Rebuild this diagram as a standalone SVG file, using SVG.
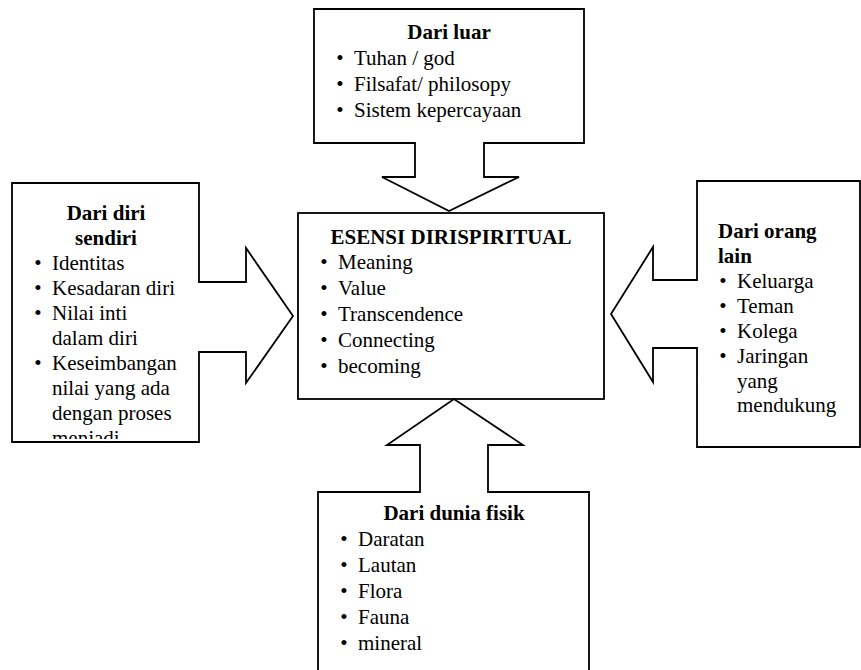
<svg xmlns="http://www.w3.org/2000/svg" width="861" height="670" viewBox="0 0 861 670">
<style>
.shape{fill:#fff;stroke:#000;stroke-width:1.8;stroke-linejoin:miter}
text{font-family:"Liberation Serif","Times New Roman",serif;font-size:21px;fill:#000}
.t{font-weight:bold}
.c{text-anchor:middle}
</style>
<defs>
<clipPath id="clipLeft"><rect x="12" y="183" width="187" height="256"/></clipPath>
</defs>
<rect x="0" y="0" width="861" height="670" fill="#fff"/>

<g id="center">
<rect class="shape" x="298" y="213" width="306" height="186"/>
<text class="t c" x="451" y="244">ESENSI DIRISPIRITUAL</text>
<text class="c" x="324" y="269">•</text><text x="338" y="269">Meaning</text>
<text class="c" x="324" y="295">•</text><text x="338" y="295">Value</text>
<text class="c" x="324" y="321">•</text><text x="338" y="321">Transcendence</text>
<text class="c" x="324" y="347">•</text><text x="338" y="347">Connecting</text>
<text class="c" x="324" y="373">•</text><text x="338" y="373">becoming</text>
</g>

<g id="dari-luar">
<path class="shape" d="M314,9 H584 V143 H484 V177 H519 L449,211 L382,177 H415 V143 H314 Z"/>
<text class="t c" x="449" y="39">Dari luar</text>
<text class="c" x="340" y="65">•</text><text x="354" y="65">Tuhan / god</text>
<text class="c" x="340" y="91">•</text><text x="354" y="91">Filsafat/ philosopy</text>
<text class="c" x="340" y="117">•</text><text x="354" y="117">Sistem kepercayaan</text>
</g>

<g id="dari-diri-sendiri">
<path class="shape" d="M12,183 H199 V282 H246 V248 L293,316 L246,383 V352 H199 V442 H12 Z"/>
<g clip-path="url(#clipLeft)">
<text class="t c" x="106" y="220">Dari diri</text>
<text class="t c" x="106" y="245">sendiri</text>
<text class="c" x="38" y="270">•</text><text x="52" y="270">Identitas</text>
<text class="c" x="38" y="295">•</text><text x="52" y="295">Kesadaran diri</text>
<text class="c" x="38" y="320">•</text><text x="52" y="320">Nilai inti</text>
<text x="52" y="345">dalam diri</text>
<text class="c" x="38" y="370">•</text><text x="52" y="370">Keseimbangan</text>
<text x="52" y="395">nilai yang ada</text>
<text x="52" y="420">dengan proses</text>
<text x="52" y="445">menjadi</text>
</g>
</g>

<g id="dari-orang-lain">
<path class="shape" d="M697,181 H860 V447 H697 V348 H653 V382 L611,314 L653,247 V280 H697 Z"/>
<text class="t" x="718" y="238">Dari orang</text>
<text class="t" x="718" y="263">lain</text>
<text class="c" x="723" y="288">•</text><text x="737" y="288">Keluarga</text>
<text class="c" x="723" y="313">•</text><text x="737" y="313">Teman</text>
<text class="c" x="723" y="338">•</text><text x="737" y="338">Kolega</text>
<text class="c" x="723" y="363">•</text><text x="737" y="363">Jaringan</text>
<text x="737" y="388">yang</text>
<text x="737" y="412">mendukung</text>
</g>

<g id="dari-dunia-fisik">
<path class="shape" d="M318,680 V492 H420 V445 H387 L454,399 L523,445 H488 V492 H589 V680"/>
<text class="t c" x="454" y="520">Dari dunia fisik</text>
<text class="c" x="344" y="546">•</text><text x="358" y="546">Daratan</text>
<text class="c" x="344" y="572">•</text><text x="358" y="572">Lautan</text>
<text class="c" x="344" y="598">•</text><text x="358" y="598">Flora</text>
<text class="c" x="344" y="624">•</text><text x="358" y="624">Fauna</text>
<text class="c" x="344" y="650">•</text><text x="358" y="650">mineral</text>
</g>

<g id="connectors"></g>
</svg>
